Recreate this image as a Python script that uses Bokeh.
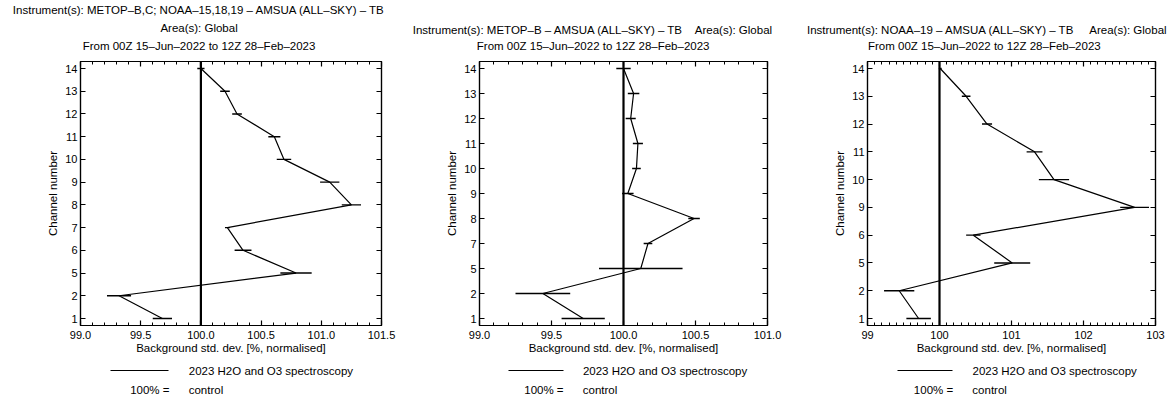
from bokeh.plotting import figure
from bokeh.layouts import row
from bokeh.models import Range1d, FixedTicker, LinearAxis, Span, ColumnDataSource
from bokeh.embed import file_html
from bokeh.resources import INLINE

FONT = "Liberation Sans"
TXT = "11.5px"
NB = "\u00a0"

# ---------------- data ----------------
p1_title = ["Instrument(s): METOP\u2013B,C; NOAA\u201315,18,19 \u2013 AMSUA (ALL\u2013SKY) \u2013 TB",
            "Area(s): Global",
            "From 00Z 15\u2013Jun\u20132022 to 12Z 28\u2013Feb\u20132023"]
p1_channels = ["1", "2", "5", "6", "7", "8", "9", "10", "11", "12", "13", "14"]
p1_values = [99.68, 99.32, 100.79, 100.35, 100.22, 101.25, 101.07, 100.69, 100.61, 100.30, 100.20, 100.00]
p1_errors = [0.08, 0.10, 0.13, 0.07, 0.02, 0.08, 0.08, 0.06, 0.05, 0.04, 0.04, 0.03]
p1_xticks = [99.0, 99.5, 100.0, 100.5, 101.0, 101.5]
p1_xlabels = ["99.0", "99.5", "100.0", "100.5", "101.0", "101.5"]

p2_title = ["Instrument(s): METOP\u2013B \u2013 AMSUA (ALL\u2013SKY) \u2013 TB",
            "Area(s): Global",
            "From 00Z 15\u2013Jun\u20132022 to 12Z 28\u2013Feb\u20132023"]
p2_channels = ["1", "2", "5", "7", "8", "9", "10", "11", "12", "13", "14"]
p2_values = [99.72, 99.44, 100.12, 100.17, 100.49, 100.03, 100.09, 100.10, 100.05, 100.07, 100.00]
p2_errors = [0.15, 0.19, 0.29, 0.03, 0.04, 0.04, 0.03, 0.035, 0.035, 0.04, 0.05]
p2_xticks = [99.0, 99.5, 100.0, 100.5, 101.0]
p2_xlabels = ["99.0", "99.5", "100.0", "100.5", "101.0"]

p3_title = ["Instrument(s): NOAA\u201319 \u2013 AMSUA (ALL\u2013SKY) \u2013 TB",
            "Area(s): Global",
            "From 00Z 15\u2013Jun\u20132022 to 12Z 28\u2013Feb\u20132023"]
p3_channels = ["1", "2", "5", "6", "9", "10", "11", "12", "13", "14"]
p3_values = [99.71, 99.44, 101.01, 100.47, 102.71, 101.59, 101.32, 100.66, 100.37, 100.01]
p3_errors = [0.17, 0.21, 0.25, 0.10, 0.20, 0.21, 0.11, 0.07, 0.06, 0.02]
p3_xticks = [99, 100, 101, 102, 103]
p3_xlabels = ["99", "100", "101", "102", "103"]

x_title = "Background std. dev. [%, normalised]"
y_title = "Channel number"
legend_text = "2023 H2O and O3 spectroscopy"
ref_left = "100% ="
ref_right = "control"
control_value = 100.0

H = 398


def axis_style(ax, show_labels=True, minor=True):
    ax.axis_line_color = "black"
    ax.axis_line_width = 1.2
    ax.major_tick_line_color = "black"
    ax.major_tick_line_width = 1.2
    ax.major_tick_in = 5
    ax.major_tick_out = 0
    if minor:
        ax.minor_tick_line_color = "black"
        ax.minor_tick_line_width = 1
        ax.minor_tick_in = 3
        ax.minor_tick_out = 0
    else:
        ax.minor_tick_line_color = None
    ax.major_label_text_font = FONT
    ax.major_label_text_font_size = "11px"
    ax.major_label_text_color = "black"
    if not show_labels:
        ax.major_label_text_alpha = 0
    ax.axis_label_text_font = FONT
    ax.axis_label_text_font_style = "normal"
    ax.axis_label_text_font_size = TXT
    ax.axis_label_text_color = "black"


def helper_axis(p, tick, side, text=None, standoff=0, tick_out=0,
                range_name="default", bounds="auto", line=False):
    """Axis carrying one line of text (or a short line) outside the frame."""
    ax = LinearAxis(ticker=FixedTicker(ticks=[tick], minor_ticks=[]),
                    x_range_name=range_name, bounds=bounds)
    if text is not None:
        ax.axis_label = text
    ax.axis_line_color = "black" if line else None
    ax.axis_line_width = 1.2
    ax.major_tick_line_color = None
    ax.minor_tick_line_color = None
    ax.major_tick_in = 0
    ax.major_tick_out = tick_out
    ax.minor_tick_out = 0
    ax.major_label_text_font_size = "1px"
    ax.major_label_text_alpha = 0
    ax.major_label_standoff = 0
    ax.axis_label_standoff = standoff
    ax.axis_label_text_font = FONT
    ax.axis_label_text_font_style = "normal"
    ax.axis_label_text_font_size = TXT
    ax.axis_label_text_color = "black"
    p.add_layout(ax, side)


def make_panel(cfg):
    ch, vals, errs = cfg["channels"], cfg["values"], cfg["errors"]
    n = len(ch)
    idx = list(range(n))
    pad = 0.028 * (n - 1)
    fig_left, fig_w = cfg["fig"]
    fl, ft, fw, fh = cfg["frame"]

    p = figure(width=fig_w, height=H,
               x_range=Range1d(cfg["xticks"][0], cfg["xticks"][-1]),
               y_range=Range1d(-pad, n - 1 + pad),
               output_backend="svg", toolbar_location=None,
               min_border_left=fl - fig_left, min_border_right=fig_left + fig_w - fl - fw,
               min_border_top=ft, min_border_bottom=H - ft - fh,
               x_axis_location=None, y_axis_location=None)
    p.extra_x_ranges = {"px": Range1d(0, fw)}
    p.xgrid.visible = False
    p.ygrid.visible = False
    p.outline_line_color = "black"
    p.outline_line_width = 1.2
    p.background_fill_color = "white"
    p.border_fill_color = "white"

    xt = cfg["xticks"]
    step = cfg["minor_step"]
    minors = []
    k = 0
    v = xt[0]
    while v <= xt[-1] + 1e-9:
        minors.append(round(v, 4))
        k += 1
        v = xt[0] + k * step
    xtick = FixedTicker(ticks=xt, minor_ticks=minors)
    ytick = FixedTicker(ticks=idx, minor_ticks=[])
    xover = dict(zip(xt, cfg["xlabels"]))
    yover = dict(zip(idx, ch))

    # bottom axis
    xb = LinearAxis(ticker=xtick, axis_label=x_title, major_label_overrides=xover)
    axis_style(xb)
    xb.major_label_standoff = 5
    xb.axis_label_standoff = 0
    p.add_layout(xb, "below")

    # top axis: ticks only
    xa = LinearAxis(ticker=xtick, major_label_overrides=xover)
    axis_style(xa, show_labels=False)
    xa.major_label_standoff = 0
    p.add_layout(xa, "above")

    yl = LinearAxis(ticker=ytick, axis_label=y_title, major_label_overrides=yover)
    axis_style(yl, minor=False)
    yl.major_label_standoff = 3
    yl.axis_label_standoff = 3
    p.add_layout(yl, "left")
    yr = LinearAxis(ticker=ytick, major_label_overrides=yover)
    axis_style(yr, show_labels=False, minor=False)
    yr.major_label_standoff = 0
    p.add_layout(yr, "right")

    # data
    lo = [a - b for a, b in zip(vals, errs)]
    hi = [a + b for a, b in zip(vals, errs)]
    src = ColumnDataSource(dict(y=idx, x=vals, lo=lo, hi=hi))
    p.add_layout(Span(location=control_value, dimension="height",
                      line_color="black", line_width=2.2))
    p.line("x", "y", source=src, line_color="black", line_width=1.2)
    p.segment(x0="lo", x1="hi", y0="y", y1="y", source=src,
              line_color="black", line_width=1.4)

    # header lines (nearest to the frame first)
    for text, shift, so in cfg["header"]:
        helper_axis(p, xt[0], "above", text=text + NB * shift, standoff=so)

    # key below the x axis: spacer, sample line, its text, reference row
    lx, gw, lshift, rshift = cfg["key"]
    helper_axis(p, xt[0], "below", tick_out=14)
    helper_axis(p, 0, "below", range_name="px", bounds=(lx - fl, lx - fl + gw), line=True)
    helper_axis(p, xt[0], "below", text=NB * lshift + legend_text, standoff=-6)
    helper_axis(p, xt[0], "below", text=ref_left + NB * 6 + ref_right + NB * rshift,
                standoff=4)
    return p


cfg1 = dict(channels=p1_channels, values=p1_values, errors=p1_errors,
            xticks=p1_xticks, xlabels=p1_xlabels, minor_step=0.1,
            fig=(0, 405), frame=(80, 60, 301, 265),
            header=[(p1_title[2], 20, 10), (p1_title[1], 20, 3), (p1_title[0], 20, 3)],
            key=(110, 58, 25, 34))
cfg2 = dict(channels=p2_channels, values=p2_values, errors=p2_errors,
            xticks=p2_xticks, xlabels=p2_xlabels, minor_step=0.1,
            fig=(405, 395), frame=(479, 60, 288, 265),
            header=[(p2_title[2], 19, 10), (p2_title[0] + NB * 4 + p2_title[1], 19, 1)],
            key=(508, 55, 26, 33))
cfg3 = dict(channels=p3_channels, values=p3_values, errors=p3_errors,
            xticks=p3_xticks, xlabels=p3_xlabels, minor_step=0.1,
            fig=(800, 370), frame=(867, 60, 288, 265),
            header=[(p3_title[2], 17, 10), (p3_title[0] + NB * 5 + p3_title[1], 15, 1)],
            key=(897, 55, 27, 32))

layout = row(make_panel(cfg1), make_panel(cfg2), make_panel(cfg3), spacing=0)
open("out.html", "w").write(file_html(layout, INLINE))
